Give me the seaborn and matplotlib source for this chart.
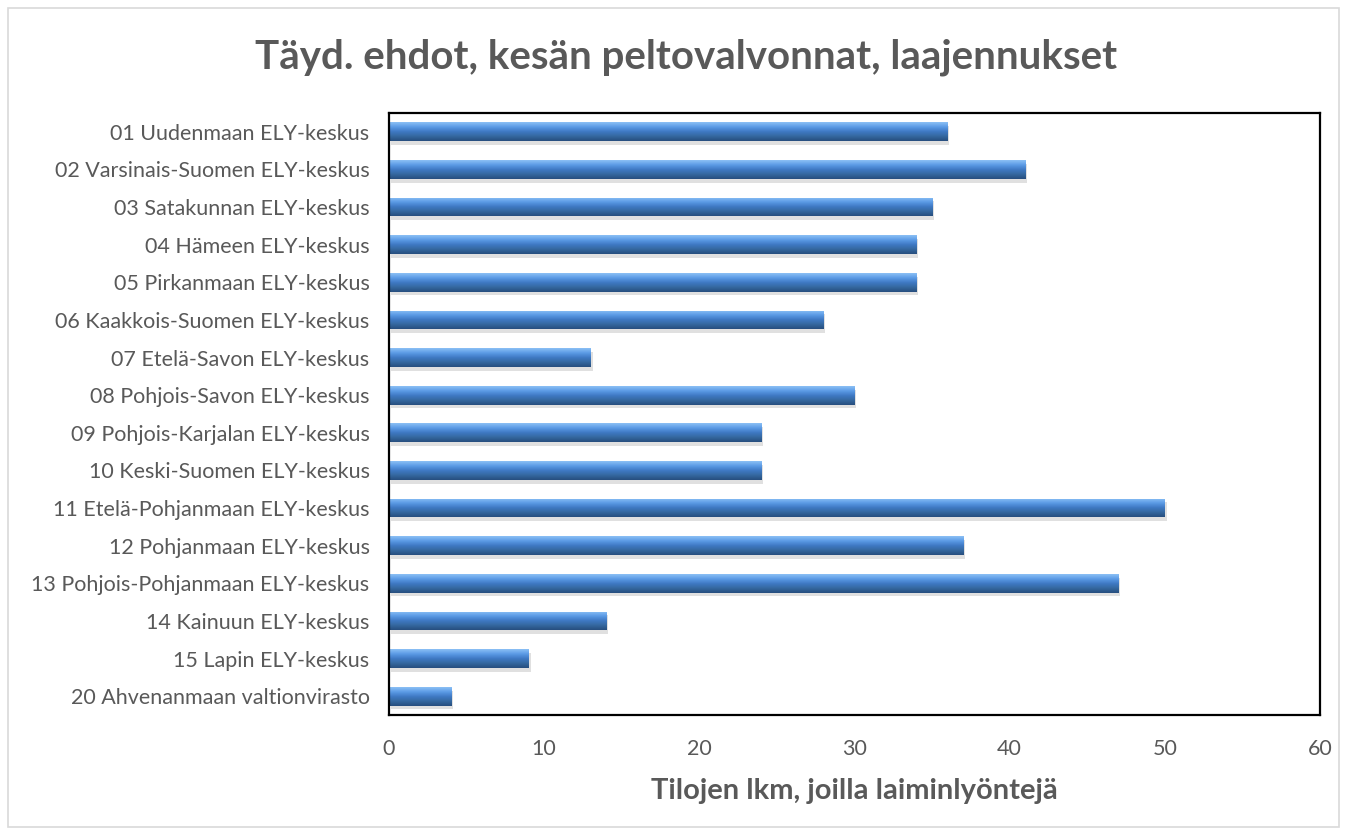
import numpy as np
import pandas as pd
import matplotlib
matplotlib.use("Agg")
import matplotlib.pyplot as plt
import seaborn as sns
from matplotlib.colors import LinearSegmentedColormap
from matplotlib.patches import Rectangle

categories = [
    "01 Uudenmaan ELY-keskus",
    "02 Varsinais-Suomen ELY-keskus",
    "03 Satakunnan ELY-keskus",
    "04 Hämeen ELY-keskus",
    "05 Pirkanmaan ELY-keskus",
    "06 Kaakkois-Suomen ELY-keskus",
    "07 Etelä-Savon ELY-keskus",
    "08 Pohjois-Savon ELY-keskus",
    "09 Pohjois-Karjalan ELY-keskus",
    "10 Keski-Suomen ELY-keskus",
    "11 Etelä-Pohjanmaan ELY-keskus",
    "12 Pohjanmaan ELY-keskus",
    "13 Pohjois-Pohjanmaan ELY-keskus",
    "14 Kainuun ELY-keskus",
    "15 Lapin ELY-keskus",
    "20 Ahvenanmaan valtionvirasto",
]
values = [36, 41, 35, 34, 34, 28, 13, 30, 24, 24, 50, 37, 47, 14, 9, 4]
x_ticks = [0, 10, 20, 30, 40, 50, 60]

title = "Täyd. ehdot, kesän peltovalvonnat, laajennukset"
xlabel = "Tilojen lkm, joilla laiminlyöntejä"

df = pd.DataFrame({"cat": categories, "val": values})

sns.set_theme(style="white")
plt.rcParams["font.family"] = ["Lato", "DejaVu Sans"]

fig = plt.figure(figsize=(13.47, 8.35), dpi=100)
ax = fig.add_axes([389/1347, 1 - 715/835, (1320 - 389)/1347, (715 - 113)/835])

sns.barplot(data=df, x="val", y="cat", orient="h", color="#3F79C4",
            width=0.5, ax=ax, edgecolor="none")

cmap = LinearSegmentedColormap.from_list(
    "bar", ["#8CC0F5", "#5B9BE6", "#3F79C4", "#35689F", "#274E7E"])
grad = np.linspace(0, 1, 64).reshape(-1, 1)
for p in list(ax.patches):
    x0, y0 = p.get_x(), p.get_y()
    w, h = p.get_width(), p.get_height()
    sh = Rectangle((x0 + 0.12, y0 + 0.1), w, h, facecolor="#000000",
                   alpha=0.12, edgecolor="none", zorder=1)
    ax.add_patch(sh)
    im = ax.imshow(grad, cmap=cmap, aspect="auto",
                   extent=[x0, x0 + w, y0 + h, y0], zorder=2,
                   interpolation="bicubic")
    im.set_clip_path(p)
    p.set_zorder(2)

ax.set_xlim(0, 60)
ax.set_ylim(len(categories) - 0.5, -0.5)
ax.set_xticks(x_ticks)
ax.set_xticklabels([str(t) for t in x_ticks])
ax.set_ylabel("")
ax.set_xlabel(xlabel, fontsize=21, fontweight="bold", color="#595959", labelpad=14)
ax.tick_params(axis="both", length=0, colors="#595959", labelsize=15.5)
ax.tick_params(axis="x", pad=17)
ax.tick_params(axis="y", pad=14)
for s in ax.spines.values():
    s.set_visible(True)
    s.set_color("black")
    s.set_linewidth(1.6)

fig.text(0.5 * (262 + 1110) / 1347, 1 - 57/835, title, ha="center", va="center",
         fontsize=29, fontweight="bold", color="#595959")

border = Rectangle((8/1347, 8/835), 1 - 16/1347, 1 - 16/835, transform=fig.transFigure,
                   fill=False, edgecolor="#D9D9D9", linewidth=1.2)
fig.patches.append(border)

fig.savefig("out.png", dpi=100, facecolor="white")
